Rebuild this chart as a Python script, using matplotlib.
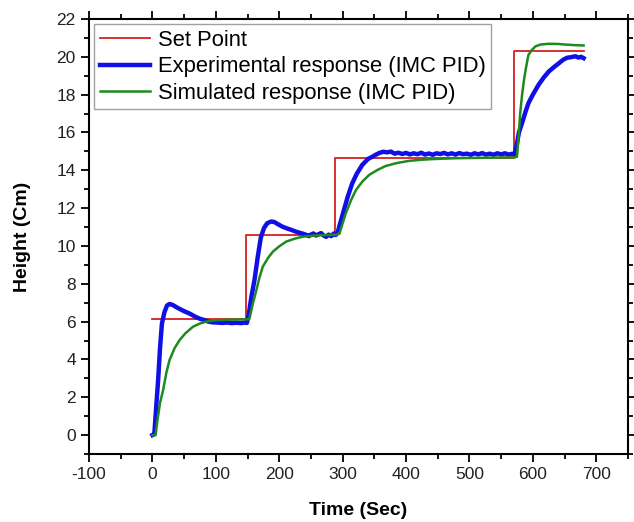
import matplotlib.pyplot as plt
from matplotlib.ticker import MultipleLocator

plt.rcParams['font.family'] = ['Liberation Sans', 'DejaVu Sans']
plt.rcParams['axes.unicode_minus'] = False

# set point (step levels)
sp_t = [0, 148, 288, 570, 680]
sp_h = [6.12, 10.58, 14.64, 20.33, 20.33]

# experimental response (IMC PID)
exp_t = [0, 3, 6, 9, 12, 15, 19, 23, 27, 32, 40, 50, 59, 68, 75, 82, 88, 95, 102, 110,
         118, 125, 132, 140, 146, 149, 152, 156, 161, 166, 171, 176, 181, 187, 192, 198,
         205, 212, 219, 226, 232, 238, 243, 247, 250, 254, 258, 262, 266, 270, 274, 278,
         282, 286, 289, 292, 297, 302, 308, 315, 322, 331, 340, 347, 352, 358, 364, 370,
         376, 382, 388, 394, 400, 406, 412, 418, 424, 430, 436, 442, 448, 454, 460, 466,
         472, 478, 484, 490, 496, 502, 508, 514, 520, 526, 532, 538, 544, 550, 556, 562,
         567, 571, 573, 575, 578, 583, 588, 593, 600, 609, 617, 625, 633, 641, 648, 654,
         660, 667, 672, 676, 680]
exp_h = [0.0, 0.05, 1.5, 2.9, 4.6, 5.9, 6.5, 6.85, 6.93, 6.88, 6.72, 6.55, 6.42, 6.25, 6.15,
         6.08, 6.0, 5.96, 5.95, 5.93, 5.95, 5.92, 5.94, 5.92, 5.95, 5.93, 6.4, 7.3, 8.2, 9.4,
         10.45, 10.95, 11.2, 11.29, 11.27, 11.15, 11.02, 10.93, 10.85, 10.76, 10.7, 10.64,
         10.58, 10.52, 10.6, 10.66, 10.55, 10.62, 10.68, 10.55, 10.48, 10.6, 10.52, 10.66,
         10.58, 10.7, 11.3, 11.9, 12.6, 13.3, 13.8, 14.29, 14.6, 14.72, 14.82, 14.92, 14.98,
         14.95, 14.99, 14.88, 14.93, 14.86, 14.92, 14.84, 14.9, 14.85, 14.93, 14.83, 14.89,
         14.82, 14.9, 14.86, 14.92, 14.84, 14.9, 14.83, 14.91, 14.85, 14.88, 14.82, 14.9,
         14.84, 14.91, 14.83, 14.88, 14.82, 14.9, 14.84, 14.9, 14.83, 14.87, 14.85, 15.1,
         15.43, 16.0, 16.5, 17.05, 17.55, 18.0, 18.52, 18.9, 19.22, 19.45, 19.66, 19.85,
         19.95, 19.98, 20.03, 19.96, 20.0, 19.93]

# simulated response (IMC PID)
sim_t = [0, 5, 8, 12, 17, 22, 27, 35, 43, 52, 64, 75, 85, 100, 120, 150, 153, 158, 164,
         169, 174, 182, 190, 200, 211, 224, 237, 255, 275, 290, 295, 300, 305, 313, 321,
         331, 342, 355, 368, 385, 405, 425, 447, 480, 520, 550, 572, 575, 578, 580, 583,
         586, 589, 593, 598, 604, 612, 625, 640, 651, 665, 680]
sim_h = [0, 0, 0.8, 1.7, 2.4, 3.3, 3.97, 4.6, 5.03, 5.38, 5.73, 5.9, 6.0, 6.07, 6.1, 6.12,
         6.15, 6.9, 7.67, 8.35, 8.9, 9.35, 9.7, 9.98, 10.23, 10.38, 10.49, 10.55, 10.58,
         10.6, 10.65, 11.2, 11.73, 12.4, 12.96, 13.4, 13.76, 14.02, 14.23, 14.38, 14.5,
         14.56, 14.6, 14.64, 14.66, 14.68, 14.69, 14.72, 16.0, 17.02, 18.0, 18.78, 19.4,
         20.1, 20.35, 20.55, 20.65, 20.69, 20.68, 20.65, 20.62, 20.6]

fig = plt.figure(figsize=(6.34, 5.22), dpi=100)
ax = fig.add_axes([0.1404, 0.1303, 0.8501, 0.8333])

ax.step(sp_t, sp_h, where="post", color="#d42020", linewidth=1.3, label="Set Point")
ax.plot(exp_t, exp_h, color="#1010e6", linewidth=3.2, label="Experimental response (IMC PID)")
ax.plot(sim_t, sim_h, color="#1e8a1e", linewidth=1.8, label="Simulated response (IMC PID)")

ax.set_xlim(-100, 750)
ax.set_ylim(-1, 22)
ax.xaxis.set_major_locator(MultipleLocator(100))
ax.xaxis.set_minor_locator(MultipleLocator(50))
ax.yaxis.set_major_locator(MultipleLocator(2))
ax.yaxis.set_minor_locator(MultipleLocator(1))
ax.tick_params(which="both", direction="out", top=True, right=True, labelsize=12.5,
               width=1.3, labelcolor="#222222")
ax.tick_params(which="major", length=6)
ax.tick_params(which="minor", length=3.5)
for s in ax.spines.values():
    s.set_linewidth(1.5)

ax.set_xlabel("Time (Sec)", fontsize=14, fontweight="bold", labelpad=14)
ax.set_ylabel("Height (Cm)", fontsize=14, fontweight="bold", labelpad=18)

leg = ax.legend(loc="upper left", fontsize=15.8, frameon=True, fancybox=False,
                edgecolor="#888888", handlelength=2.3, handletextpad=0.35,
                borderpad=0.25, labelspacing=0.25, borderaxespad=0.25)
leg.get_frame().set_linewidth(1.0)

fig.savefig("out.png", dpi=100)
